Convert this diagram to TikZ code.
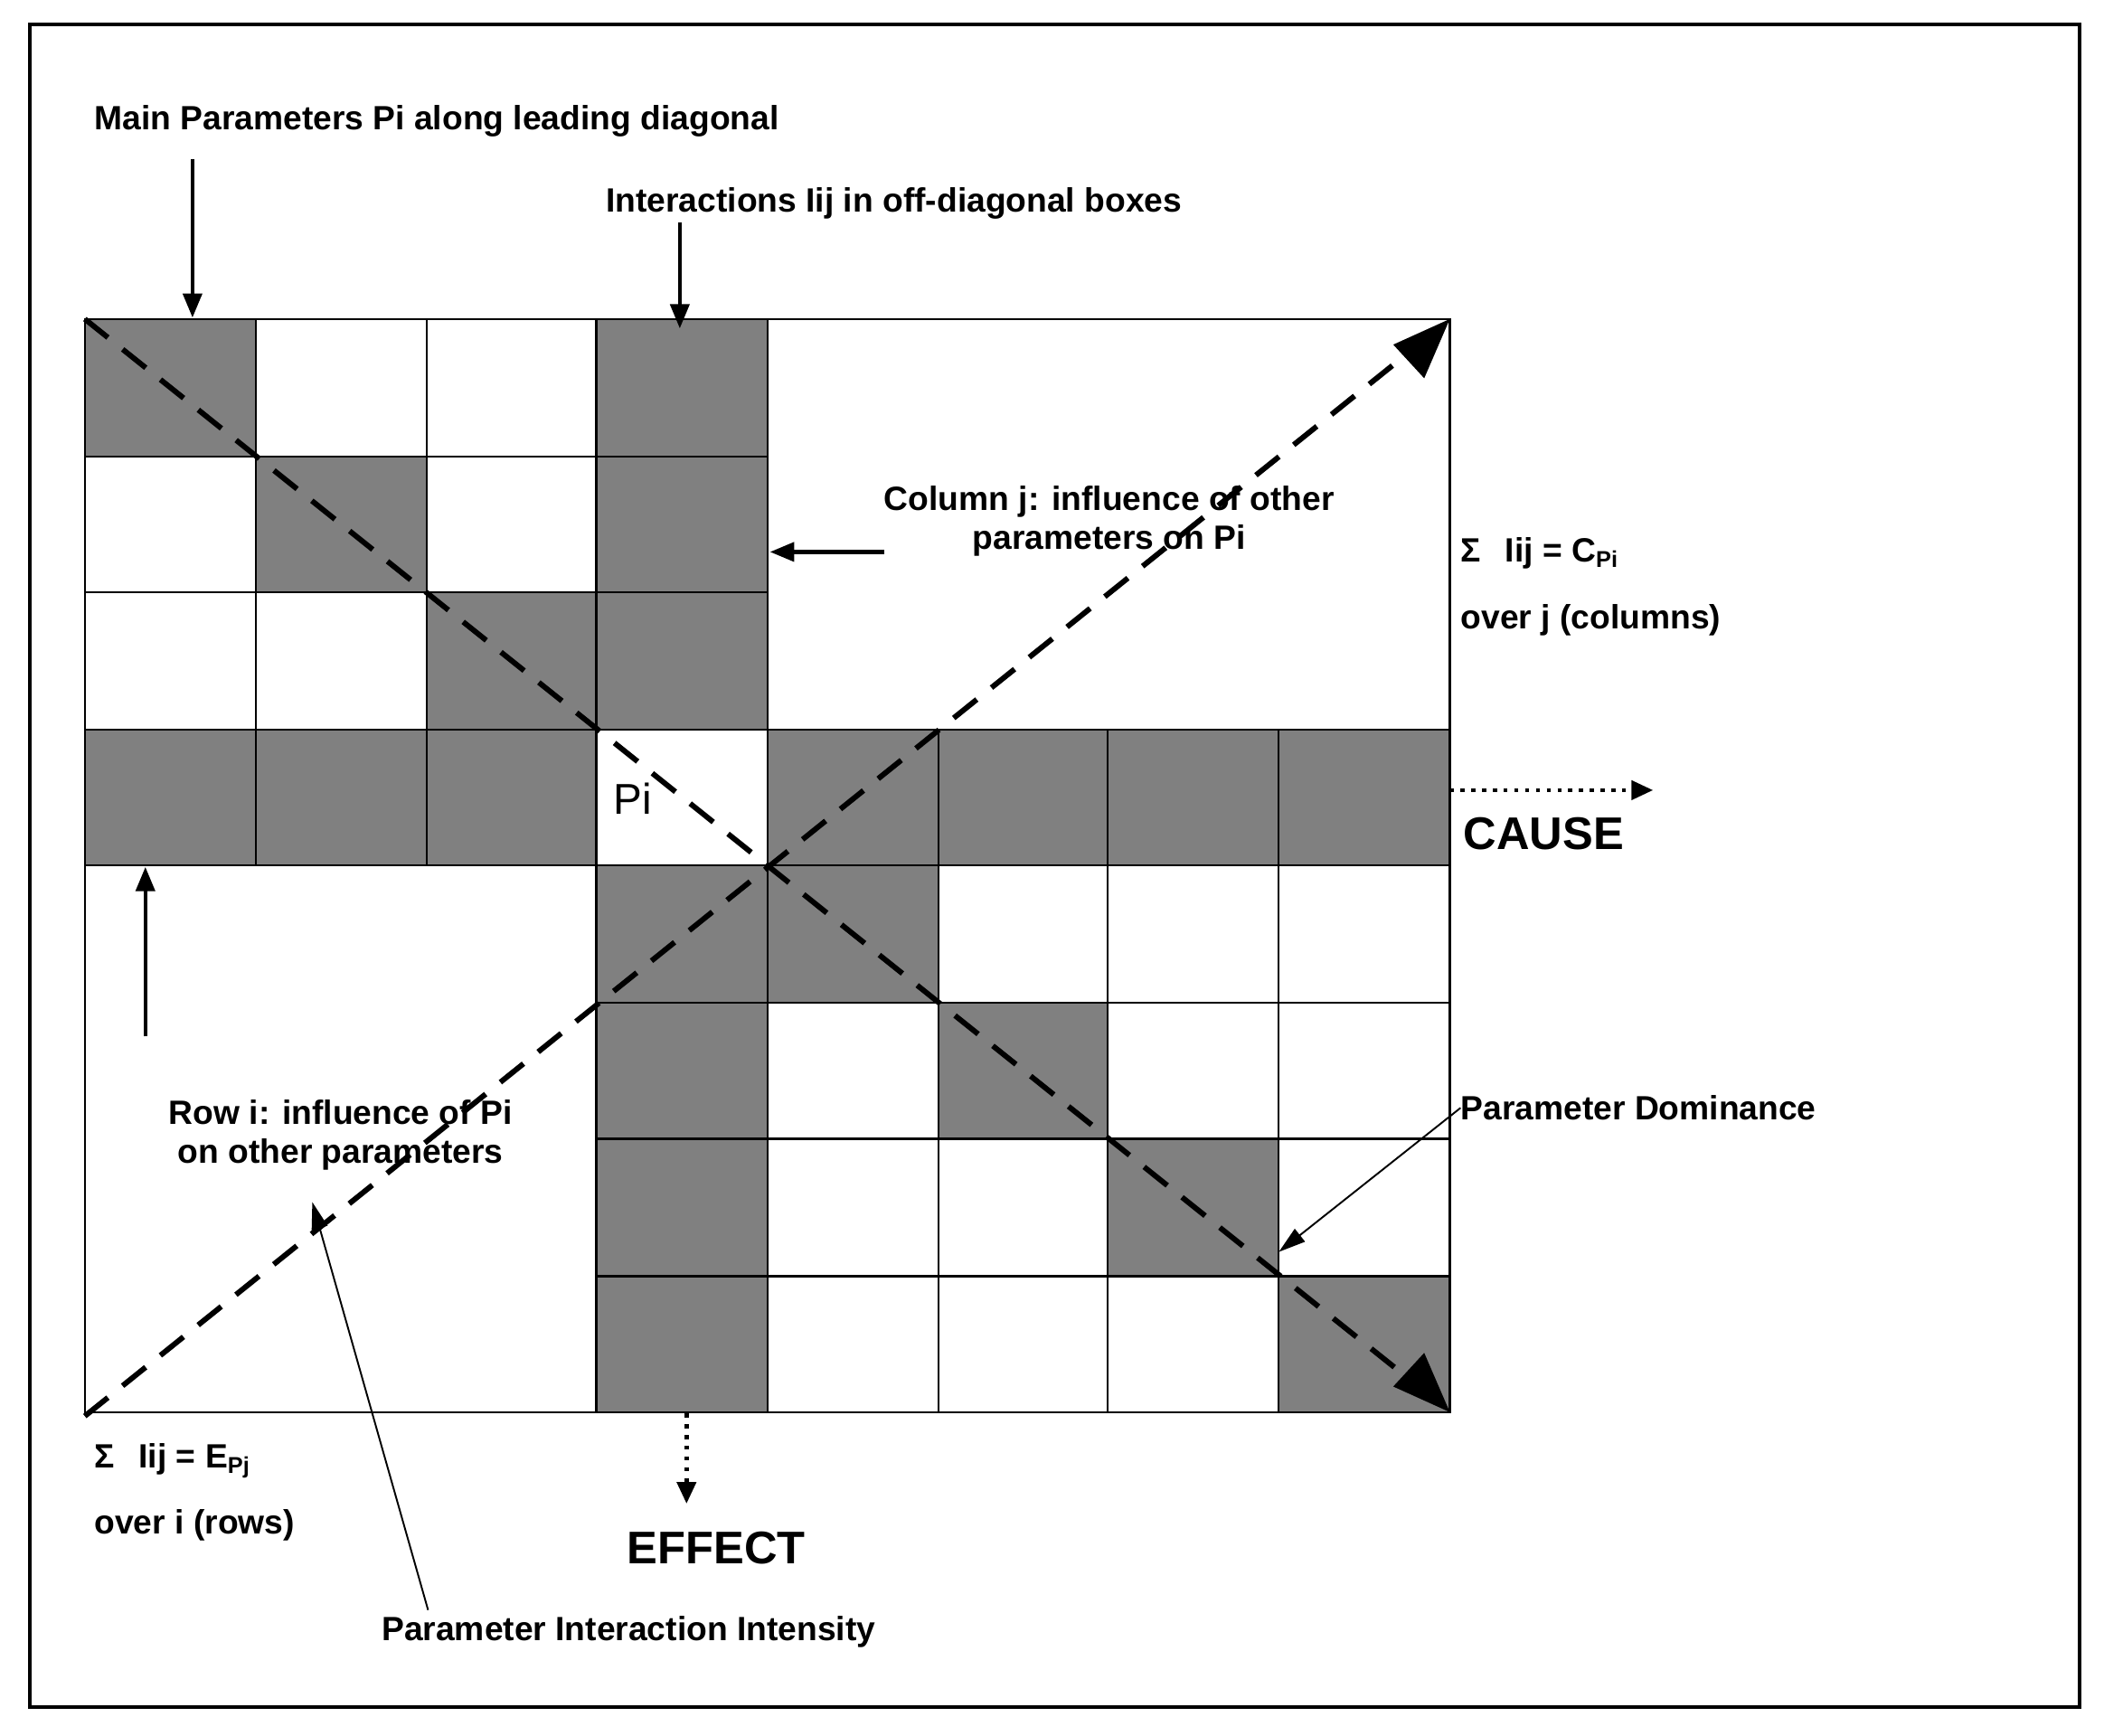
\documentclass[tikz,border=0pt]{standalone}
\usepackage{fontspec}
\setmainfont{Liberation Sans}
\usetikzlibrary{arrows.meta}
\begin{document}
\begin{tikzpicture}[x=1pt,y=-1pt,
  lbl/.style={font=\fontsize{25}{29}\selectfont\bfseries,inner sep=0pt},
  big/.style={font=\fontsize{34}{38}\selectfont\bfseries,inner sep=0pt},
  bigdash/.style={line width=4pt,dash pattern=on 22pt off 14pt},
  thick arr/.style={line width=3pt,-{Triangle[length=18pt,width=14pt]}},
  dot arr/.style={line width=3pt,dash pattern=on 3pt off 5pt,-{Triangle[length=16pt,width=14pt]}},
  thin arr/.style={line width=1.3pt,-{Triangle[length=20pt,width=12pt]}}]
\useasboundingbox (0,0) rectangle (1563,1289);
\draw[line width=2.5pt] (22,18) rectangle (1545,1268);
\def\X#1{\ifcase#1 63\or190\or317\or443\or570\or697\or823\or950\or1077\fi}
\def\Y#1{\ifcase#1 237\or339\or440\or542\or643\or745\or846\or948\or1049\fi}
\foreach \c/\r in {0/0,1/1,2/2,4/4,5/5,6/6,7/7,3/0,3/1,3/2,3/4,3/5,3/6,3/7,0/3,1/3,2/3,4/3,5/3,6/3,7/3}{
  \pgfmathtruncatemacro\cc{\c+1}\pgfmathtruncatemacro\rr{\r+1}
  \fill[gray] (\X{\c},\Y{\r}) rectangle (\X{\cc},\Y{\rr});}
\begin{scope}[line width=1.5pt]
\draw (63,237) rectangle (1077,1049);
\foreach \i in {1,2}{\draw (63,\Y{\i}) -- (570,\Y{\i});}
\foreach \i in {1,2,3}{\draw (\X{\i},237) -- (\X{\i},643);}
\draw (443,237) -- (443,1049) (570,237) -- (570,1049);
\draw (63,542) -- (1077,542) (63,643) -- (1077,643);
\foreach \i in {5,6,7}{\draw (443,\Y{\i}) -- (1077,\Y{\i});}
\foreach \i in {5,6,7}{\draw (\X{\i},542) -- (\X{\i},1049);}
\end{scope}
\coordinate (tl) at (63,237); \coordinate (br) at (1050,1027);
\coordinate (bl) at (63,1052); \coordinate (tr) at (1050,259);
\draw[bigdash] (tl) -- (br);
\draw[bigdash] (bl) -- (tr);
\fill (1077,1049) -- (1035,1030) -- (1058,1005) -- cycle;
\fill (1077,237) -- (1058,281) -- (1035,256) -- cycle;
\node[font=\fontsize{32}{36}\selectfont,anchor=center] (pi) at (470,593) {Pi};
\node[lbl,anchor=west] (t1) at (70,90) {Main Parameters Pi along leading diagonal};
\node[lbl,anchor=west] (t2) at (450,151) {Interactions Iij in off-diagonal boxes};
\coordinate (a1s) at (143,118); \coordinate (a1e) at (143,236);
\coordinate (a2s) at (505,165); \coordinate (a2e) at (505,244);
\draw[thick arr] (a1s) -- (a1e);
\draw[thick arr] (a2s) -- (a2e);
\node[lbl,align=center] (col) at (824,387) {Column j: influence of other\\parameters on Pi};
\coordinate (a3s) at (657,410); \coordinate (a3e) at (572,410);
\draw[thick arr] (a3s) -- (a3e);
\node[lbl,anchor=west] (sc) at (1085,411) {Σ\hspace{18pt}Iij = C\raisebox{-4pt}{\fontsize{17}{20}\selectfont Pi}};
\node[lbl,anchor=west] (oc) at (1085,461) {over j (columns)};
\coordinate (caus) at (1077,587); \coordinate (cause) at (1228,587);
\draw[dot arr] (caus) -- (cause);
\node[big,anchor=west] (cl) at (1087,619) {CAUSE};
\coordinate (a4s) at (108,770); \coordinate (a4e) at (108,644);
\draw[thick arr] (a4s) -- (a4e);
\node[lbl,align=center] (row) at (253,843) {Row i: influence of Pi\\on other parameters};
\node[lbl,anchor=west] (pd) at (1085,823) {Parameter Dominance};
\coordinate (pdt) at (950,930);
\draw[thin arr] (pd.west) -- (pdt);
\node[lbl,anchor=west] (se) at (70,1085) {Σ\hspace{18pt}Iij = E\raisebox{-4pt}{\fontsize{17}{20}\selectfont Pj}};
\node[lbl,anchor=west] (oe) at (70,1133) {over i (rows)};
\coordinate (efs) at (510,1050); \coordinate (efe) at (510,1117);
\draw[dot arr] (efs) -- (efe);
\node[big] (ef) at (532,1150) {EFFECT};
\node[lbl] (pii) at (467,1212) {Parameter Interaction Intensity};
\coordinate (piit) at (232,893); \coordinate (piis) at (318,1196);
\draw[thin arr] (piis) -- (piit);
\end{tikzpicture}
\end{document}
